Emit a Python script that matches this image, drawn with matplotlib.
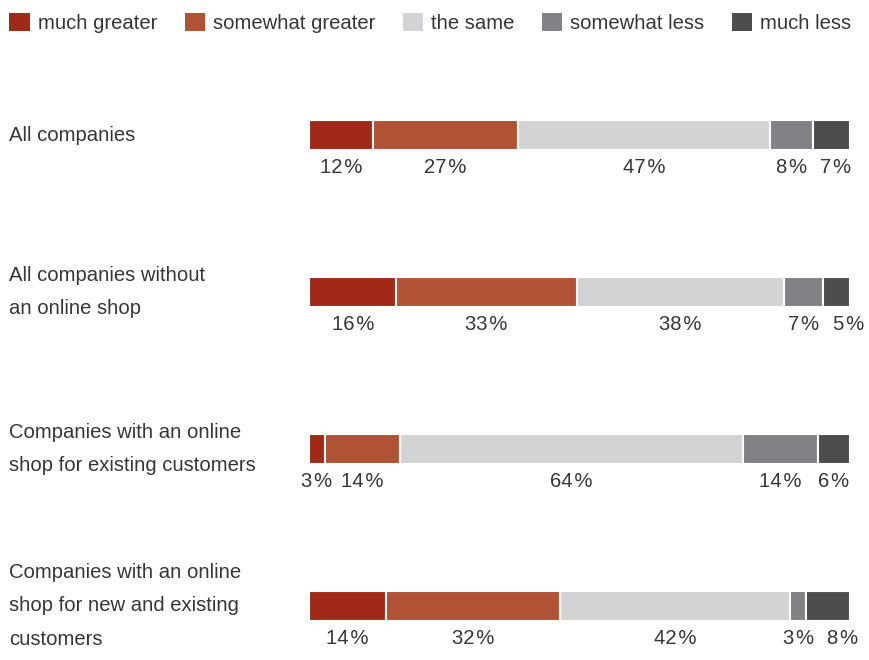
import matplotlib
matplotlib.use('Agg')
import matplotlib.pyplot as plt
from matplotlib.patches import Patch
from matplotlib.transforms import blended_transform_factory
import numpy as np

plt.rcParams['font.family'] = ['Liberation Sans', 'DejaVu Sans']

groups = ['All companies',
          'All companies without\nan online shop',
          'Companies with an online\nshop for existing customers',
          'Companies with an online\nshop for new and existing\ncustomers']
answers = ['much greater', 'somewhat greater', 'the same', 'somewhat less', 'much less']
much_greater = [12, 16, 3, 14]
somewhat_greater = [27, 33, 14, 32]
the_same = [47, 38, 64, 42]
somewhat_less = [8, 7, 14, 3]
much_less = [7, 5, 6, 8]

colors = ['#A02918', '#B05236', '#D2D3D5', '#818285', '#4D4D4F']
txt = '#363636'
fs = 14.6

series = [much_greater, somewhat_greater, the_same, somewhat_less, much_less]
vals = np.array(series, dtype=float).T  # rows = groups

fig = plt.figure(figsize=(8.7, 6.6), dpi=100)
ax = fig.add_axes([309/870, 0, 541/870, 1])
ax.set_xlim(0, 100)
ax.set_ylim(3.344, -0.860)
ax.axis('off')

min_gap = 8.3  # keep neighbouring labels from running into each other
for i, row in enumerate(vals):
    shares = row / row.sum() * 100
    left = 0
    prev = -100
    for j, s in enumerate(shares):
        ax.barh(i, s, left=left, height=0.186, color=colors[j],
                edgecolor='white', linewidth=1.5)
        lx = max(left + s / 2, prev + min_gap)
        ax.text(lx, i + 0.21, '%d\u200a%%' % row[j],
                ha='center', va='center', fontsize=fs, color=txt)
        prev = lx
        left += s

tr = blended_transform_factory(fig.transFigure, ax.transData)
for i, g in enumerate(groups):
    ax.text(9/870, i, g, transform=tr, ha='left', va='center',
            fontsize=fs, color=txt, linespacing=1.95)

handles = [Patch(facecolor=c, edgecolor='none') for c in colors]
fig.legend(handles, answers, loc='upper left', bbox_to_anchor=(-0.002, 0.997),
           ncol=5, frameon=False, fontsize=fs, labelcolor=txt,
           handlelength=1.0, handleheight=1.0, handletextpad=0.4,
           columnspacing=1.35, borderaxespad=0.2, borderpad=0.35)

fig.savefig('out.png', dpi=100)
